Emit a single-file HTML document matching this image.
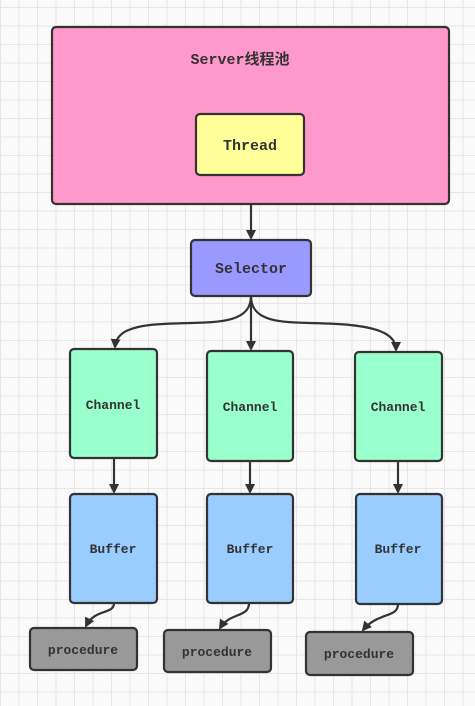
<!DOCTYPE html>
<html><head><meta charset="utf-8"><style>
html,body{margin:0;padding:0}
body{width:475px;height:706px;overflow:hidden;background:#fafafa;
background-image:linear-gradient(#e6e6e6 1px,transparent 1px),linear-gradient(90deg,#e6e6e6 1px,transparent 1px);background-size:18.5px 18.5px;background-position:0 7px}
svg{position:absolute;left:0;top:0}
text{font-family:"Liberation Mono","Noto Sans CJK SC",monospace;font-weight:bold;fill:#333;text-anchor:middle}
</style></head><body>
<svg width="475" height="706" viewBox="0 0 475 706">
<defs><marker id="a" markerWidth="10" markerHeight="10" refX="8" refY="5" orient="auto" markerUnits="userSpaceOnUse"><path d="M0,0 L10,5 L0,10 Z" fill="#333"/></marker></defs>
<g stroke="#333" stroke-width="2.2">
<rect x="52" y="27" width="397" height="177" rx="4" fill="#ff99cc"/>
<rect x="196" y="114" width="108" height="61" rx="4" fill="#ffff99"/>
<rect x="191" y="240" width="120" height="56" rx="4" fill="#9999ff"/>
<rect x="70" y="349" width="87" height="109" rx="4" fill="#99ffcc"/>
<rect x="207" y="351" width="86" height="110" rx="4" fill="#99ffcc"/>
<rect x="355" y="352" width="87" height="109" rx="4" fill="#99ffcc"/>
<rect x="70" y="494" width="87" height="109" rx="4" fill="#99ccff"/>
<rect x="207" y="494" width="86" height="109" rx="4" fill="#99ccff"/>
<rect x="356" y="494" width="86" height="110" rx="4" fill="#99ccff"/>
<rect x="30" y="628" width="107" height="42" rx="4" fill="#999"/>
<rect x="164" y="630" width="107" height="42" rx="4" fill="#999"/>
<rect x="306" y="632" width="107" height="43" rx="4" fill="#999"/>
<g fill="none" marker-end="url(#a)">
<path d="M251,204 V238"/>
<path d="M251,296 C251,330 200,320 150,325 C125,328 116,335 115,347"/>
<path d="M251,296 V349"/>
<path d="M251,296 C251,330 300,320 350,325 C380,328 396,335 396,350"/>
<path d="M114,458 V492"/>
<path d="M250,461 V492"/>
<path d="M398,461 V492"/>
<path d="M114,603 C114,615 95,608 86,626"/>
<path d="M249,603 C249,618 230,612 220,628"/>
<path d="M398,604 C398,618 378,612 363,630"/>
</g></g>
<text x="240" y="64" font-size="15">Server线程池</text>
<text x="250" y="150" font-size="15">Thread</text>
<text x="251" y="273" font-size="15">Selector</text>
<g font-size="13">
<text x="113" y="409">Channel</text><text x="250" y="411">Channel</text><text x="398" y="411">Channel</text>
<text x="113" y="553">Buffer</text><text x="250" y="553">Buffer</text><text x="398" y="553">Buffer</text>
<text x="83" y="654">procedure</text><text x="217" y="656">procedure</text><text x="359" y="658">procedure</text>
</g>
</svg>
</body></html>
